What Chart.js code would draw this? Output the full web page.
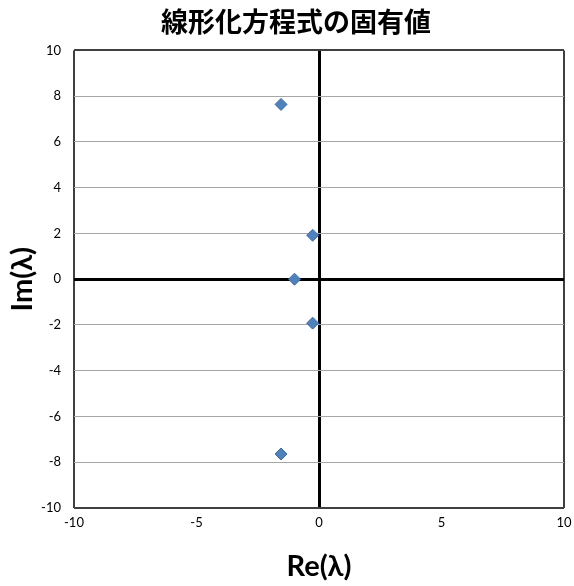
<!DOCTYPE html>
<html>
<head>
<meta charset="utf-8">
<script src="https://cdn.jsdelivr.net/npm/chart.js@4/dist/chart.umd.min.js"></script>
<style>
html,body{margin:0;padding:0;background:#fff;}
#wrap{width:574px;height:586px;}
</style>
</head>
<body>
<div id="wrap"><canvas id="c" width="574" height="586"></canvas></div>
<script>
const chartTitle = "線形化方程式の固有値";
const xTitle = "Re(λ)";
const yTitle = "Im(λ)";
const reValues = [-1.55, -0.26, -1.0, -0.26, -1.55];
const imValues = [7.64, 1.92, 0.0, -1.92, -7.64];
const axisMin = -10, axisMax = 10;
const xStep = 5, yStep = 2;

const points = reValues.map((r, i) => ({x: r, y: imValues[i]}));
const tickFont = {family: "Lato, 'Liberation Sans', sans-serif", size: 13};

const shiftTitle = {
  id: 'shiftTitle',
  afterLayout(chart) {
    if (chart.titleBlock) { chart.titleBlock.left += 14; chart.titleBlock.right += 14; }
  }
};

new Chart(document.getElementById('c'), {
  type: 'scatter',
  data: {
    datasets: [{
      data: points,
      pointStyle: 'rectRot',
      pointRadius: 6,
      backgroundColor: '#4F81BD',
      borderColor: '#3D6DA6',
      borderWidth: 1
    }]
  },
  plugins: [shiftTitle],
  options: {
    responsive: false,
    animation: false,
    devicePixelRatio: 1,
    layout: {padding: {left: 0, right: 10, top: 0, bottom: 0}},
    plugins: {
      legend: {display: false},
      tooltip: {enabled: false},
      title: {
        display: true,
        text: chartTitle,
        color: '#000',
        font: {family: "'Noto Sans CJK JP', sans-serif", size: 27, weight: 'bold', lineHeight: 1.2},
        padding: {top: 6, bottom: 12}
      }
    },
    scales: {
      x: {
        type: 'linear',
        min: axisMin, max: axisMax,
        ticks: {stepSize: xStep, color: '#000', font: tickFont, padding: 7, maxRotation: 0},
        grid: {
          drawTicks: false,
          color: ctx => ctx.tick && ctx.tick.value === 0 ? '#000' : (ctx.tick && Math.abs(ctx.tick.value) === 10 ? '#404040' : 'rgba(0,0,0,0)'),
          lineWidth: ctx => ctx.tick && ctx.tick.value === 0 ? 3 : 2
        },
        border: {display: false},
        title: {
          display: true, text: xTitle, color: '#000',
          font: {family: "Lato, 'Liberation Sans', sans-serif", size: 29, weight: 'bold', lineHeight: 1},
          padding: {top: 0, bottom: 5}
        },
        afterFit: s => { s.height = 78; s.paddingLeft = 0; s.paddingRight = 0; }
      },
      y: {
        type: 'linear',
        min: axisMin, max: axisMax,
        ticks: {stepSize: yStep, color: '#000', font: tickFont, padding: 13},
        grid: {
          drawTicks: false,
          color: ctx => ctx.tick && ctx.tick.value === 0 ? '#000' : (ctx.tick && Math.abs(ctx.tick.value) === 10 ? '#404040' : '#A6A6A6'),
          lineWidth: ctx => ctx.tick && ctx.tick.value === 0 ? 3 : (ctx.tick && Math.abs(ctx.tick.value) === 10 ? 2 : 1)
        },
        border: {display: false},
        title: {
          display: true, text: yTitle, color: '#000',
          font: {family: "Lato, 'Liberation Sans', sans-serif", size: 29, weight: 'bold', lineHeight: 1},
          padding: {top: 8, bottom: 0}
        },
        afterFit: s => { s.width = 74; }
      }
    }
  }
});
</script>
</body>
</html>
